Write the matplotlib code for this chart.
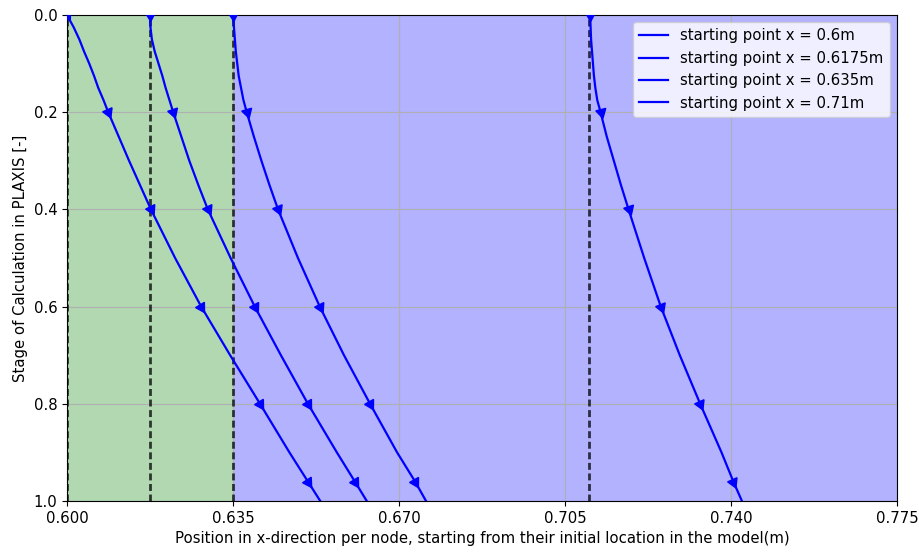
import numpy as np
import matplotlib
matplotlib.use("Agg")
import matplotlib.pyplot as plt

plt.rcParams["font.size"] = 10.7

# Calculation stages (normalised) at which node positions were recorded
stages = [0.0, 0.025, 0.05, 0.075, 0.1, 0.125, 0.15, 0.175, 0.2, 0.25, 0.3,
          0.35, 0.4, 0.5, 0.6, 0.7, 0.8, 0.9, 0.96, 1.0]

# Horizontal position of each tracked node per stage (m)
x_start_060 = [0.6000, 0.6014, 0.6026, 0.6036, 0.6047, 0.6057, 0.6066, 0.6077,
               0.6087, 0.6109, 0.6131, 0.6154, 0.6177, 0.6228, 0.6283, 0.6344,
               0.6407, 0.6469, 0.6508, 0.6534]
x_start_06175 = [0.6175, 0.6176, 0.6179, 0.6185, 0.6193, 0.6201, 0.6208, 0.6216,
                 0.6224, 0.6241, 0.6258, 0.6277, 0.6297, 0.6345, 0.6396, 0.6451,
                 0.6508, 0.6569, 0.6607, 0.6632]
x_start_0635 = [0.6350, 0.6352, 0.6354, 0.6356, 0.6359, 0.6362, 0.6367, 0.6372,
                0.6379, 0.6394, 0.6410, 0.6427, 0.6445, 0.6487, 0.6533, 0.6584,
                0.6639, 0.6696, 0.6734, 0.6757]
x_start_071 = [0.7103, 0.7104, 0.7105, 0.7107, 0.7109, 0.7111, 0.7114, 0.7118,
               0.7125, 0.7138, 0.7153, 0.7168, 0.7184, 0.7217, 0.7252, 0.7292,
               0.7335, 0.7380, 0.7405, 0.7423]

start_points = [0.6, 0.6175, 0.635, 0.71]
labels = ["starting point x = 0.6m", "starting point x = 0.6175m",
          "starting point x = 0.635m", "starting point x = 0.71m"]
series = [x_start_060, x_start_06175, x_start_0635, x_start_071]

# Stages at which a direction arrow is drawn
arrow_stages = [0.0, 0.2, 0.4, 0.6, 0.8, 0.96]

# Zone boundaries
zone_green = (0.600, 0.635)
zone_blue = (0.635, 0.775)

x_ticks = [0.600, 0.635, 0.670, 0.705, 0.740, 0.775]
y_ticks = [0.0, 0.2, 0.4, 0.6, 0.8, 1.0]

fig = plt.figure(figsize=(9.2, 5.52), dpi=100)
ax = fig.add_axes([0.0728, 0.0924, 0.9022, 0.8804])

ax.axvspan(*zone_green, color="green", alpha=0.3, lw=0)
ax.axvspan(*zone_blue, color="blue", alpha=0.3, lw=0)

for xs in start_points:
    ax.axvline(xs, color="k", alpha=0.75, lw=2, linestyle=(0, (2.5, 1.3)), zorder=2)

ax.set_xlim(0.600, 0.775)
ax.set_ylim(1.0, 0.0)
ax.set_xticks(x_ticks)
ax.set_xticklabels([f"{t:.3f}" for t in x_ticks])
ax.set_yticks(y_ticks)
ax.set_yticklabels([f"{t:.1f}" for t in y_ticks])
ax.grid(True)

for xs_vals, lab in zip(series, labels):
    ax.plot(xs_vals, stages, color="blue", lw=1.6, label=lab, zorder=3)

# Arrow heads oriented along the local direction of each path
fig.canvas.draw()
for xs_vals in series:
    for s in arrow_stages:
        i = stages.index(s)
        p0 = ax.transData.transform((xs_vals[i], stages[i]))
        p1 = ax.transData.transform((xs_vals[i + 1], stages[i + 1]))
        ang = np.degrees(np.arctan2(p1[1] - p0[1], p1[0] - p0[0])) - 90
        ax.plot([xs_vals[i]], [stages[i]], marker=(3, 0, ang), markersize=8.5,
                color="blue", zorder=4, clip_on=True)

ax.legend(loc="upper right")
ax.set_xlabel("Position in x-direction per node, starting from their initial location in the model(m)")
ax.set_ylabel("Stage of Calculation in PLAXIS [-]")

fig.savefig("out.png", dpi=100)
